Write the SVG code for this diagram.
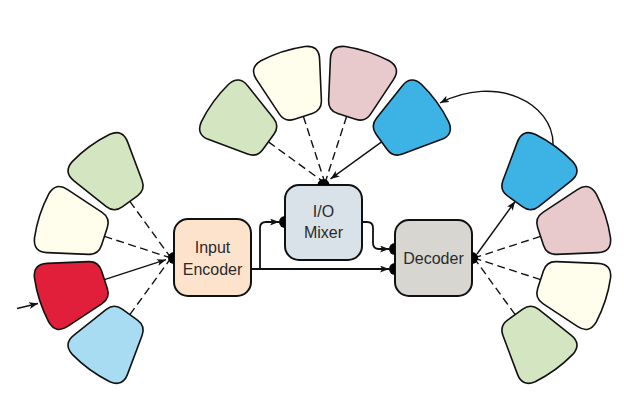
<svg xmlns="http://www.w3.org/2000/svg" width="624" height="408" viewBox="0 0 624 408">
<style>
.seg{stroke:#111;stroke-width:1.6;stroke-linejoin:round}
.green{fill:#d4e5c1}.cream{fill:#fffdeb}.pink{fill:#e8cacd}.blue{fill:#3cb2e5}.red{fill:#e21f3b}.lblue{fill:#a7dcf3}
.box{stroke:#111;stroke-width:2}
.dot{fill:#000}
.lbl{font-family:"Liberation Sans",Arial,sans-serif;font-size:16px;fill:#2a2a2a;text-anchor:middle}
.dash{fill:none;stroke:#111;stroke-width:1.4;stroke-dasharray:8 4.5}
.solid{fill:none;stroke:#111;stroke-width:1.4}
.flow{fill:none;stroke:#111;stroke-width:1.8}
</style>
<defs>
<path id="seg" d="M70,-9.41 Q70,-19.41 79.64,-22.08 L119.49,-33.14 Q132.98,-36.88 136.03,-23.23 A138,138 0 0 1 136.03,23.23 Q132.98,36.88 119.49,33.14 L79.64,22.08 Q70,19.41 70,9.41 Z"/>
<marker id="arr" markerUnits="userSpaceOnUse" markerWidth="10" markerHeight="8" refX="9" refY="3.5" orient="auto">
<path d="M0,0 L9,3.5 L0,7 L2.2,3.5 Z" fill="#111"/>
</marker>
</defs>
<g id="connectors">
<line class="dash" x1="129.85" y1="201.37" x2="171" y2="258"/>
<line class="dash" x1="104.43" y1="236.37" x2="171" y2="258"/>
<line class="solid" x1="104.43" y1="279.63" x2="166" y2="259.7" marker-end="url(#arr)"/>
<line class="dash" x1="129.85" y1="314.63" x2="171" y2="258"/>
<line class="solid" x1="17" y1="308.5" x2="38" y2="303.5" marker-end="url(#arr)"/>
<line class="dash" x1="268.37" y1="141.85" x2="325" y2="183"/>
<line class="dash" x1="303.37" y1="116.43" x2="325" y2="183"/>
<line class="dash" x1="346.63" y1="116.43" x2="325" y2="183"/>
<line class="solid" x1="381.63" y1="141.85" x2="330.5" y2="178.9" marker-end="url(#arr)"/>
<line class="solid" x1="477" y1="254" x2="515.15" y2="201.37" marker-end="url(#arr)"/>
<line class="dash" x1="540.57" y1="236.37" x2="474" y2="258"/>
<line class="dash" x1="540.57" y1="279.63" x2="474" y2="258"/>
<line class="dash" x1="515.15" y1="314.63" x2="474" y2="258"/>
<path class="solid" d="M553,145 C554,103 496,74 440,103" marker-end="url(#arr)"/>
<path class="flow" d="M251,269 L389,269" marker-end="url(#arr)"/>
<path class="flow" d="M260,269 L260,228 Q260,222 266,222 L279,222" marker-end="url(#arr)"/>
<path class="flow" d="M362,222 L367,222 Q373,222 373,228 L373,243 Q373,249 379,249 L389,249" marker-end="url(#arr)"/>
</g>
<g id="left-green"><use href="#seg" class="seg green" transform="translate(171 258) rotate(234)"/></g>
<g id="left-cream"><use href="#seg" class="seg cream" transform="translate(171 258) rotate(198)"/></g>
<g id="left-red"><use href="#seg" class="seg red" transform="translate(171 258) rotate(162)"/></g>
<g id="left-lightblue"><use href="#seg" class="seg lblue" transform="translate(171 258) rotate(126)"/></g>
<g id="top-green"><use href="#seg" class="seg green" transform="translate(325 183) rotate(-144)"/></g>
<g id="top-cream"><use href="#seg" class="seg cream" transform="translate(325 183) rotate(-108)"/></g>
<g id="top-pink"><use href="#seg" class="seg pink" transform="translate(325 183) rotate(-72)"/></g>
<g id="top-blue"><use href="#seg" class="seg blue" transform="translate(325 183) rotate(-36)"/></g>
<g id="right-blue"><use href="#seg" class="seg blue" transform="translate(474 258) rotate(-54)"/></g>
<g id="right-pink"><use href="#seg" class="seg pink" transform="translate(474 258) rotate(-18)"/></g>
<g id="right-cream"><use href="#seg" class="seg cream" transform="translate(474 258) rotate(18)"/></g>
<g id="right-green"><use href="#seg" class="seg green" transform="translate(474 258) rotate(54)"/></g>
<g id="input-encoder">
<rect class="box" x="174" y="219" width="77" height="77" rx="14" fill="#fde3cc"/>
<path class="dot" d="M174,252 A6,6 0 0 0 174,264 Z"/>
<text class="lbl" x="212.5" y="252.5">Input</text>
<text class="lbl" x="212.5" y="274.5">Encoder</text>
</g>
<g id="io-mixer">
<rect class="box" x="285" y="185" width="77" height="75" rx="14" fill="#d9e2e8"/>
<path class="dot" d="M317.5,185 A6,6 0 0 1 329.5,185 Z"/>
<path class="dot" d="M285,216 A6,6 0 0 0 285,228 Z"/>
<text class="lbl" x="323.5" y="217">I/O</text>
<text class="lbl" x="323.5" y="238">Mixer</text>
</g>
<g id="decoder">
<rect class="box" x="395" y="220" width="77" height="76" rx="14" fill="#d8d6d1"/>
<path class="dot" d="M395,243 A6,6 0 0 0 395,255 Z"/>
<path class="dot" d="M395,263 A6,6 0 0 0 395,275 Z"/>
<path class="dot" d="M472,252 A6,6 0 0 1 472,264 Z"/>
<text class="lbl" x="433.5" y="264">Decoder</text>
</g>
</svg>
